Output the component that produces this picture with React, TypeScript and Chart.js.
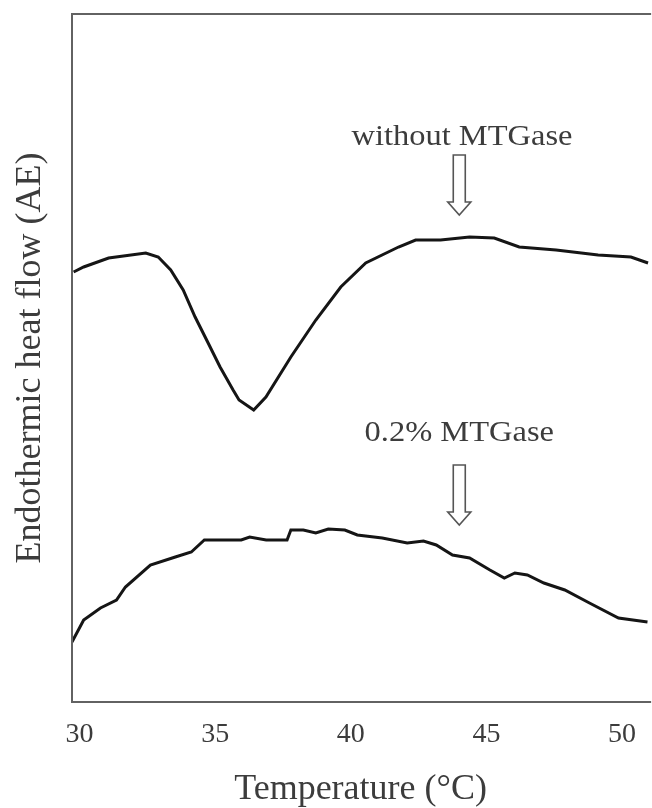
import React, { useEffect, useRef } from "react";
import { Chart, registerables } from "chart.js";

Chart.register(...registerables);

// DSC traces (temperature in °C, heat flow in arbitrary units)
const tempWithout = [
  29.78, 30.15, 31.07, 32.44, 32.9, 33.36, 33.82, 34.26, 34.74, 35.18, 35.66, 35.88,
  36.42, 36.87, 37.79, 38.71, 39.63, 40.55, 41.76, 42.39, 43.31, 44.38, 45.29, 46.21,
  47.57, 49.12, 50.33, 50.96,
];
const heatWithout = [
  4.3, 4.35, 4.44, 4.49, 4.45, 4.32, 4.12, 3.85, 3.59, 3.35, 3.12, 3.02,
  2.92, 3.05, 3.45, 3.82, 4.15, 4.39, 4.55, 4.62, 4.62, 4.65, 4.64, 4.55,
  4.52, 4.47, 4.45, 4.39,
];

const tempWith = [
  29.72, 30.15, 30.77, 31.36, 31.69, 32.61, 33.53, 34.12, 34.6, 35.96, 36.27, 36.88,
  37.65, 37.79, 38.25, 38.71, 39.17, 39.78, 40.24, 41.16, 42.08, 42.68, 43.15, 43.75,
  44.38, 45.13, 45.66, 46.05, 46.51, 47.12, 47.89, 48.8, 49.87, 50.94,
];
const heatWith = [
  0.6, 0.82, 0.94, 1.02, 1.15, 1.37, 1.45, 1.5, 1.62, 1.62, 1.65, 1.62,
  1.62, 1.72, 1.72, 1.69, 1.73, 1.72, 1.67, 1.64, 1.59, 1.61, 1.57, 1.47,
  1.44, 1.32, 1.24, 1.29, 1.27, 1.19, 1.12, 0.99, 0.84, 0.8,
];

const xTicks = [30, 35, 40, 45, 50];
const seriesLabels = ["without MTGase", "0.2% MTGase"];

const SERIF = "'Liberation Serif', 'Times New Roman', serif";
const TEXT = "#3c3c3c";

function hollowArrow(ctx: CanvasRenderingContext2D, x: number, yTop: number, yTip: number) {
  const shaft = 6;
  const head = 11.5;
  const headLen = 13;
  ctx.beginPath();
  ctx.moveTo(x - shaft, yTop);
  ctx.lineTo(x + shaft, yTop);
  ctx.lineTo(x + shaft, yTip - headLen);
  ctx.lineTo(x + head, yTip - headLen);
  ctx.lineTo(x, yTip);
  ctx.lineTo(x - head, yTip - headLen);
  ctx.lineTo(x - shaft, yTip - headLen);
  ctx.closePath();
  ctx.fillStyle = "#ffffff";
  ctx.fill();
  ctx.lineWidth = 1.6;
  ctx.strokeStyle = "#555555";
  ctx.stroke();
}

// the scanned labels are a little wider than the font, so stretch them horizontally
function wideText(ctx: CanvasRenderingContext2D, text: string, x: number, y: number) {
  ctx.save();
  ctx.translate(x, y);
  ctx.scale(1.12, 1);
  ctx.fillText(text, 0, 0);
  ctx.restore();
}

const framePlugin = {
  id: "frameAndNotes",
  afterDraw(chart: any) {
    const { ctx, chartArea: a, scales } = chart;
    const xs = scales.x;
    const ys = scales.y;
    ctx.save();
    ctx.strokeStyle = "#626262";
    ctx.lineWidth = 2;
    ctx.beginPath();
    ctx.moveTo(a.right + 2, a.top);
    ctx.lineTo(a.left, a.top);
    ctx.lineTo(a.left, a.bottom);
    ctx.lineTo(a.right + 2, a.bottom);
    ctx.stroke();

    ctx.fillStyle = TEXT;
    ctx.font = `29px ${SERIF}`;
    ctx.textAlign = "center";
    ctx.textBaseline = "middle";
    wideText(ctx, seriesLabels[0], xs.getPixelForValue(44.1), ys.getPixelForValue(5.65));
    wideText(ctx, seriesLabels[1], xs.getPixelForValue(44.0), ys.getPixelForValue(2.69));

    const ax = xs.getPixelForValue(44.0);
    hollowArrow(ctx, ax, ys.getPixelForValue(5.47), ys.getPixelForValue(4.87));
    hollowArrow(ctx, ax, ys.getPixelForValue(2.37), ys.getPixelForValue(1.77));
    ctx.restore();
  },
};

const App: React.FC = () => {
  const canvasRef = useRef<HTMLCanvasElement | null>(null);
  const chartRef = useRef<Chart | null>(null);

  useEffect(() => {
    if (!canvasRef.current) return;
    if (chartRef.current) chartRef.current.destroy();

    chartRef.current = new Chart(canvasRef.current, {
      type: "line",
      data: {
        datasets: [
          {
            label: seriesLabels[0],
            data: tempWithout.map((t, i) => ({ x: t, y: heatWithout[i] })),
            borderColor: "#151515",
            borderWidth: 3,
          },
          {
            label: seriesLabels[1],
            data: tempWith.map((t, i) => ({ x: t, y: heatWith[i] })),
            borderColor: "#151515",
            borderWidth: 3,
          },
        ],
      },
      options: {
        animation: false,
        responsive: true,
        maintainAspectRatio: false,
        layout: { padding: { top: 14, right: 0, bottom: 0, left: 0 } },
        elements: { point: { radius: 0 }, line: { tension: 0 } },
        plugins: { legend: { display: false }, tooltip: { enabled: false } },
        scales: {
          x: {
            type: "linear",
            min: 29.72,
            max: 51,
            grid: { display: false, drawTicks: false },
            border: { display: false },
            afterBuildTicks: (s: any) => {
              s.ticks = xTicks.map((v) => ({ value: v }));
            },
            afterFit: (s: any) => {
              s.height = 106;
            },
            ticks: {
              font: { family: SERIF, size: 28 },
              color: TEXT,
              padding: 16,
              maxRotation: 0,
            },
            title: {
              display: true,
              text: "Temperature (°C)",
              font: { family: SERIF, size: 36, lineHeight: 1 },
              color: TEXT,
              padding: 0,
            },
          },
          y: {
            min: 0,
            max: 6.88,
            grid: { display: false, drawTicks: false },
            border: { display: false },
            ticks: { display: false },
            afterFit: (s: any) => {
              s.width = 72;
            },
            title: {
              display: true,
              text: "Endothermic heat flow (AE)",
              font: { family: SERIF, size: 36, lineHeight: 1 },
              color: TEXT,
              padding: { top: 13, bottom: 0 },
            },
          },
        },
      },
      plugins: [framePlugin],
    });

    return () => {
      if (chartRef.current) {
        chartRef.current.destroy();
        chartRef.current = null;
      }
    };
  }, []);

  return (
    <div style={{ position: "fixed", left: 0, top: 0, width: 652, height: 808, background: "#ffffff" }}>
      <canvas ref={canvasRef} />
    </div>
  );
};

export default App;
